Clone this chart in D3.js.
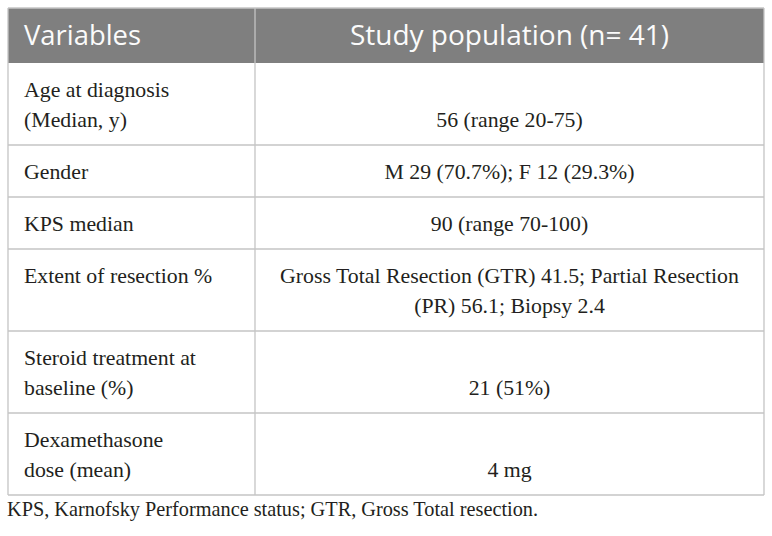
<!DOCTYPE html>
<html>
<head>
    <meta charset="utf-8">
    <title>Study population table</title>
    <script src="https://d3js.org/d3.v7.min.js"></script>
    <style>
        body { margin: 0; background: #fff; }
    </style>
</head>
<body>
    <svg width="772" height="536" id="table"></svg>
    <script>
        // table content
        const headers = ["Variables", "Study population (n= 41)"]
        const variables = [
            ["Age at diagnosis", "(Median, y)"],
            ["Gender"],
            ["KPS median"],
            ["Extent of resection %"],
            ["Steroid treatment at", "baseline (%)"],
            ["Dexamethasone", "dose (mean)"]
        ]
        const values = [
            ["56 (range 20-75)"],
            ["M 29 (70.7%); F 12 (29.3%)"],
            ["90 (range 70-100)"],
            ["Gross Total Resection (GTR) 41.5; Partial Resection", "(PR) 56.1; Biopsy 2.4"],
            ["21 (51%)"],
            ["4 mg"]
        ]
        const footnote = "KPS, Karnofsky Performance status; GTR, Gross Total resection."

        const svg = d3.select("#table")
        const xLeft = 8, xMid = 255, xRight = 764
        const yTop = 8, headH = 55
        const lineH = 30, firstBase = 34, padBottom = 18
        const bodyFont = "'Liberation Serif', 'DejaVu Serif', serif"
        const borderCol = "#c4c4c4"
        const textCol = "#231f20"

        const rows = variables.map((v, i) => ({
            left: v,
            right: values[i],
            lines: Math.max(v.length, values[i].length)
        }))
        let yPos = yTop + headH
        rows.forEach(r => {
            r.y0 = yPos
            r.h = firstBase + lineH * (r.lines - 1) + padBottom
            yPos += r.h
        })
        const yBottom = yPos

        // header
        svg.append("rect")
            .attr("x", xLeft).attr("y", yTop)
            .attr("width", xRight - xLeft).attr("height", headH)
            .attr("fill", "#7f7f7f")

        svg.append("text")
            .attr("x", xLeft + 16).attr("y", yTop + 37)
            .attr("font-family", "'Open Sans', sans-serif")
            .attr("font-size", 27.4)
            .attr("fill", "#fbfbfb")
            .text(headers[0])
        svg.append("text")
            .attr("x", (xMid + xRight) / 2).attr("y", yTop + 37)
            .attr("text-anchor", "middle")
            .attr("font-family", "'Open Sans', sans-serif")
            .attr("font-size", 28)
            .attr("fill", "#fbfbfb")
            .text(headers[1])

        // grid lines
        const grid = svg.append("g").attr("stroke", borderCol).attr("stroke-width", 1.3)
        grid.selectAll("line.h")
            .data(rows)
            .enter().append("line")
            .attr("x1", xLeft).attr("x2", xRight)
            .attr("y1", d => d.y0 + d.h).attr("y2", d => d.y0 + d.h)
        grid.append("line")
            .attr("x1", xLeft).attr("x2", xLeft).attr("y1", yTop).attr("y2", yBottom)
        grid.append("line")
            .attr("x1", xRight).attr("x2", xRight).attr("y1", yTop).attr("y2", yBottom)
        grid.append("line")
            .attr("x1", xMid).attr("x2", xMid).attr("y1", yTop).attr("y2", yBottom)
        grid.append("line")
            .attr("x1", xLeft).attr("x2", xRight).attr("y1", yTop).attr("y2", yTop)

        // body cells
        const g = svg.selectAll("g.row")
            .data(rows)
            .enter().append("g")
            .attr("class", "row")
            .attr("font-family", bodyFont)
            .attr("font-size", 21.8)
            .attr("fill", textCol)

        // left column: top aligned
        g.append("text")
            .selectAll("tspan")
            .data(d => d.left.map((t, i) => ({ t, yy: d.y0 + firstBase + i * lineH })))
            .enter().append("tspan")
            .attr("x", xLeft + 16)
            .attr("y", d => d.yy)
            .text(d => d.t)

        // right column: bottom aligned, centred
        g.append("text")
            .attr("text-anchor", "middle")
            .selectAll("tspan")
            .data(d => d.right.map((t, i) => ({
                t, yy: d.y0 + d.h - padBottom - (d.right.length - 1 - i) * lineH
            })))
            .enter().append("tspan")
            .attr("x", (xMid + xRight) / 2)
            .attr("y", d => d.yy)
            .text(d => d.t)

        svg.append("text")
            .attr("x", xLeft - 1).attr("y", yBottom + 21)
            .attr("font-family", bodyFont)
            .attr("font-size", 20.3)
            .attr("fill", textCol)
            .text(footnote)
    </script>
</body>
</html>
